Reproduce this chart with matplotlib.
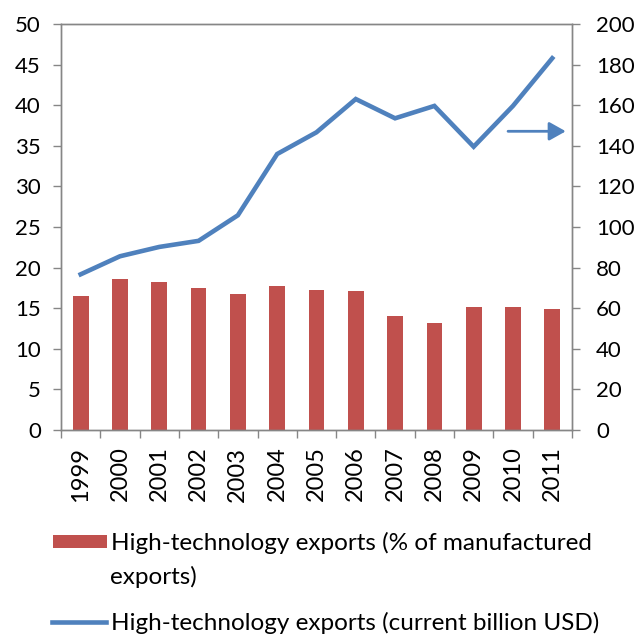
import numpy as np
import matplotlib
matplotlib.use("Agg")
import matplotlib.pyplot as plt
from matplotlib.ticker import FixedLocator

plt.rcParams['font.family'] = ['Lato', 'DejaVu Sans']

years = ['1999', '2000', '2001', '2002', '2003', '2004', '2005',
         '2006', '2007', '2008', '2009', '2010', '2011']
share_pct = [16.5, 18.6, 18.2, 17.5, 16.8, 17.7, 17.3, 17.1, 14.0, 13.2, 15.2, 15.2, 14.9]
exports_bn = [76.7, 85.6, 90.2, 93.2, 105.8, 136.0, 146.7, 163.1, 153.6, 159.7, 139.6, 159.7, 183.2]

red = '#C0504D'
blue = '#4F81BD'
grey = '#868686'
fs_y = 16
fs_x = 17
fs_leg = 17.5

fig = plt.figure(figsize=(6.39, 6.36), dpi=100)
ax = fig.add_axes([0.0955, 0.324, 0.7995, 0.638])
ax2 = ax.twinx()

x = np.arange(len(years))
bars = ax.bar(x, share_pct, width=0.4, color=red, zorder=2)
line, = ax2.plot(x, exports_bn, color=blue, lw=3.3, solid_joinstyle='miter')

ax.set_xlim(-0.5, len(years) - 0.5)
ax.set_ylim(0, 50)
ax.set_yticks(np.arange(0, 51, 5))
ax2.set_ylim(0, 200)
ax2.set_yticks(np.arange(0, 201, 20))

ax.set_xticks(x)
ax.set_xticklabels(years, rotation=90, fontsize=fs_x)
ax.tick_params(axis='x', which='major', length=0, pad=12)
ax.xaxis.set_minor_locator(FixedLocator(np.arange(-0.5, len(years), 1)))
ax.tick_params(axis='x', which='minor', length=5.5, color=grey, width=1)
ax.tick_params(axis='y', labelsize=fs_y, length=5.5, color=grey, width=1, pad=9)
ax2.tick_params(axis='y', labelsize=fs_y, length=5.5, color=grey, width=1, pad=12)

for a in (ax, ax2):
    for s in a.spines.values():
        s.set_color(grey)
        s.set_linewidth(1)

# arrow pointing to the right-hand axis
ax.annotate('', xy=(0.988, 0.736), xytext=(0.875, 0.736), xycoords='axes fraction',
            arrowprops=dict(arrowstyle='-|>,head_length=0.5,head_width=0.28',
                            mutation_scale=20, color=blue, lw=2,
                            shrinkA=0, shrinkB=0))

# legend, laid out like the original (wrapped first entry)
leg_kw = dict(loc='center left', frameon=False, fontsize=fs_leg, handlelength=2.2,
              handleheight=0.5, handletextpad=0.2, borderpad=0, borderaxespad=0)
fig.legend([bars], ['High-technology exports (% of manufactured'],
           bbox_to_anchor=(0.083, 0.146), **leg_kw)
fig.text(0.172, 0.093, 'exports)', fontsize=fs_leg, va='center', ha='left')
fig.legend([line], ['High-technology exports (current billion USD)'],
           bbox_to_anchor=(0.082, 0.0205), **leg_kw)

fig.savefig('out.png', dpi=100)
